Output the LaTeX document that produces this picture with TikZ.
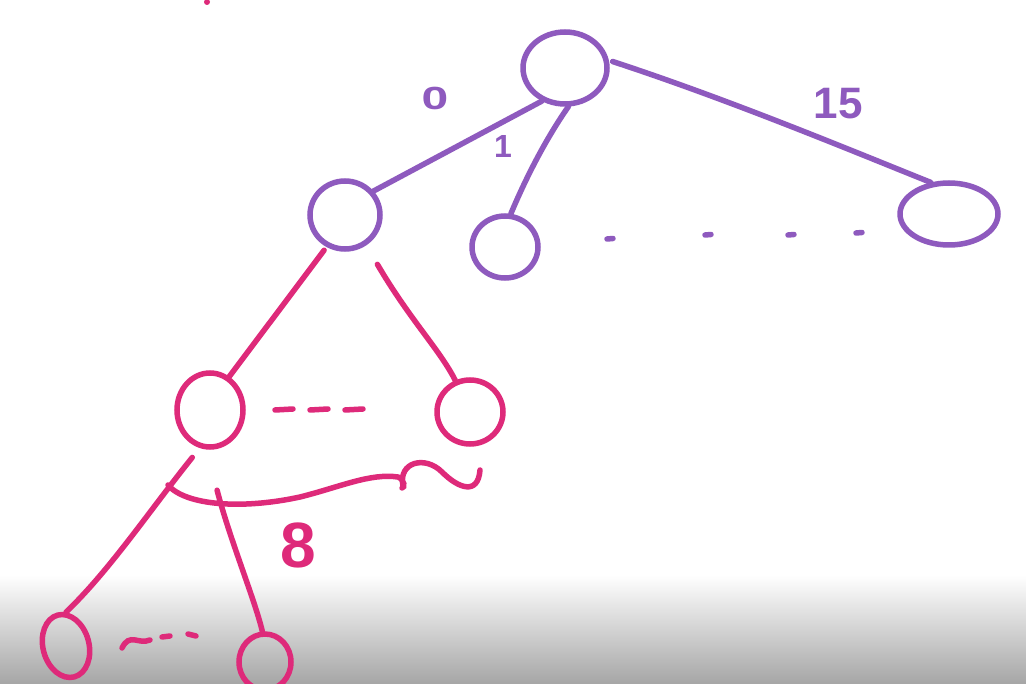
\documentclass[tikz,border=0pt]{standalone}
\usepackage{fontspec}
\setmainfont{Liberation Sans}
\usetikzlibrary{shapes.geometric}
\definecolor{pur}{RGB}{142,90,190}
\definecolor{pnk}{RGB}{222,42,122}
\begin{document}
\begin{tikzpicture}[x=1pt,y=-1pt,
  pnode/.style={ellipse,draw=pur,line width=5.5pt,inner sep=0pt},
  knode/.style={ellipse,draw=pnk,line width=5.5pt,inner sep=0pt},
  pline/.style={draw=pur,line width=5.5pt,line cap=round},
  kline/.style={draw=pnk,line width=5.5pt,line cap=round},
  plab/.style={text=pur,font=\bfseries\fontsize{32}{32}\selectfont},
  klab/.style={text=pnk,font=\bfseries\fontsize{64}{64}\selectfont}]
\useasboundingbox (0,0) rectangle (1026,684);
\fill[white] (0,0) rectangle (1026,684);
\shade[top color=white,bottom color=black!35] (0,575) rectangle (1026,684);
\fill[pnk] (207,2) circle (3);
% nodes
\node[pnode,minimum width=84pt,minimum height=72pt] (root) at (565,68) {};
\node[pnode,minimum width=70pt,minimum height=68pt] (l) at (345,215) {};
\node[pnode,minimum width=66pt,minimum height=62pt] (m) at (505,247) {};
\node[pnode,minimum width=98pt,minimum height=62pt] (r) at (949,214) {};
\node[knode,minimum width=66pt,minimum height=74pt] (pl) at (210,410) {};
\node[knode,minimum width=66pt,minimum height=64pt] (pr) at (470,412) {};
\node[knode,minimum width=46pt,minimum height=64pt,rotate=15] (bl) at (66,646) {};
\node[knode,minimum width=52pt,minimum height=56pt] (br) at (265,662) {};
% purple edges
\draw[pline] (root.-125) -- (l.40);
\draw[pline] (root.-85) .. controls (545,140) and (525,180) .. (m.80);
\draw[pline,shorten <=4pt] (root.10) .. controls (730,100) and (850,150) .. (r.120);
% dashes
\foreach \x/\y in {607/239,705/235,788/235,856/233}
  \draw[pline] (\x,\y) -- (\x+6,\y-0.5);
% pink edges
\draw[kline,shorten <=4pt] (l.-120) -- (pl.60);
\draw[kline,shorten <=22pt] (l.-55) .. controls (410,320) and (440,350) .. (pr.115);
\draw[kline,shorten <=12pt] (pl.-105) .. controls (150,510) and (110,570) .. (bl.75);
\draw[kline,shorten <=42pt] (pl.-95) .. controls (230,540) and (255,600) .. (br.95);
\foreach \x in {275,310,345}
  \draw[kline] (\x,410) -- (\x+18,409);
\draw[kline] (122,648) .. controls (130,632) and (138,645) .. (150,640);
\draw[kline] (162,637) -- (170,636);
\draw[kline] (188,634) -- (196,636);
% brace-like curve
\draw[kline] (168,485) .. controls (185,505) and (240,510) .. (300,497)
  .. controls (340,487) and (370,473) .. (398,477) .. controls (405,480) and (405,488) .. (402,488);
\draw[kline] (403,486) .. controls (398,462) and (425,455) .. (442,472)
  .. controls (458,488) and (478,496) .. (480,470);
% labels
\node[plab,xscale=1.5] (c0) at (435,98) {0};
\node[plab] (c1) at (503,146) {1};
\node[plab,font=\bfseries\fontsize{44}{44}\selectfont] (c15) at (838,104) {15};
\node[klab] (c8) at (298,545) {8};
\end{tikzpicture}
\end{document}
